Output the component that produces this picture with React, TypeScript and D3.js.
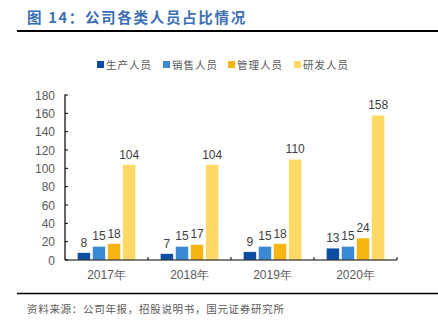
import React from "react";
import * as d3 from "d3";

const years = ["2017年", "2018年", "2019年", "2020年"];
const seriesNames = ["生产人员", "销售人员", "管理人员", "研发人员"];
const production = [8, 7, 9, 13];
const sales = [15, 15, 15, 15];
const management = [18, 17, 18, 24];
const rnd = [104, 104, 110, 158];
const yTicks = [0, 20, 40, 60, 80, 100, 120, 140, 160, 180];
const colors = ["#0B4EA2", "#3A89D4", "#F7B512", "#FFD966"];

const W = 438;
const H = 321;
const left = 65;
const right = 397;
const top = 95;
const bottom = 260;
const font = "'Liberation Sans', Arial, sans-serif";
const cjk = "'Noto Sans CJK SC', sans-serif";

export default function App() {
  const series = [production, sales, management, rnd];
  const x = d3.scaleBand<string>().domain(years).range([left, right]).paddingInner(0).paddingOuter(0);
  const x1 = d3
    .scaleBand<number>()
    .domain([0, 1, 2, 3])
    .range([0, 58.5])
    .paddingInner(0.13);
  const groupOffset = (x.bandwidth() - 58.5) / 2;
  const y = d3.scaleLinear().domain([0, 180]).range([bottom, top]);

  return (
    <svg width={W} height={H} style={{ position: "absolute", left: 0, top: 0, background: "#fff" }}>
      <text x={27} y={23} fill="#3B6FB6" fontFamily={cjk} fontWeight="bold" fontSize={14.5} letterSpacing={1.7}>
        图 14：公司各类人员占比情况
      </text>
      <line x1={17} x2={438} y1={31} y2={31} stroke="#000" strokeWidth={2} />

      {seriesNames.map((n, i) => {
        const lx = [97, 163, 228, 294][i];
        return (
          <g key={n}>
            <rect x={lx} y={61} width={7} height={7} fill={colors[i]} />
            <text x={lx + 9} y={68.5} fontFamily={cjk} fontSize={10.5} fill="#595959" letterSpacing={1}>
              {n}
            </text>
          </g>
        );
      })}

      {yTicks.map((t) => (
        <g key={t}>
          <text x={55} y={y(t) + 4.5} textAnchor="end" fontFamily={font} fontSize={12} fill="#595959">
            {t}
          </text>
          <line x1={left} x2={left + 3} y1={y(t)} y2={y(t)} stroke="#000" strokeWidth={1} />
        </g>
      ))}
      <line x1={left} x2={left} y1={top - 0.5} y2={bottom} stroke="#000" strokeWidth={1.2} />

      {years.map((yr, gi) => (
        <g key={yr}>
          {series.map((s, si) => {
            const bx = (x(yr) as number) + groupOffset + (x1(si) as number);
            const v = s[gi];
            return (
              <g key={si}>
                <rect
                  x={bx}
                  y={y(v)}
                  width={x1.bandwidth()}
                  height={bottom - y(v)}
                  fill={colors[si]}
                  stroke="#fff"
                  strokeWidth={0.6}
                />
                <text
                  x={bx + x1.bandwidth() / 2}
                  y={y(v) - 6}
                  textAnchor="middle"
                  fontFamily={font}
                  fontSize={12}
                  fill="#404040"
                >
                  {v}
                </text>
              </g>
            );
          })}
          <text
            x={(x(yr) as number) + x.bandwidth() / 2}
            y={279}
            textAnchor="middle"
            fontFamily={font}
            fontSize={12}
            fill="#595959"
          >
            {yr}
          </text>
        </g>
      ))}
      <line x1={left} x2={right} y1={bottom} y2={bottom} stroke="#000" strokeWidth={1.2} />
      {years.map((yr) => (
        <line
          key={"t" + yr}
          x1={(x(yr) as number) + x.bandwidth()}
          x2={(x(yr) as number) + x.bandwidth()}
          y1={bottom}
          y2={bottom - 3}
          stroke="#000"
          strokeWidth={1}
        />
      ))}

      <line x1={17} x2={438} y1={293.5} y2={293.5} stroke="#000" strokeWidth={1.5} />
      <text x={27} y={313} fontFamily={cjk} fontSize={10.5} fill="#595959" letterSpacing={0.7}>
        资料来源：公司年报，招股说明书，国元证券研究所
      </text>
    </svg>
  );
}
